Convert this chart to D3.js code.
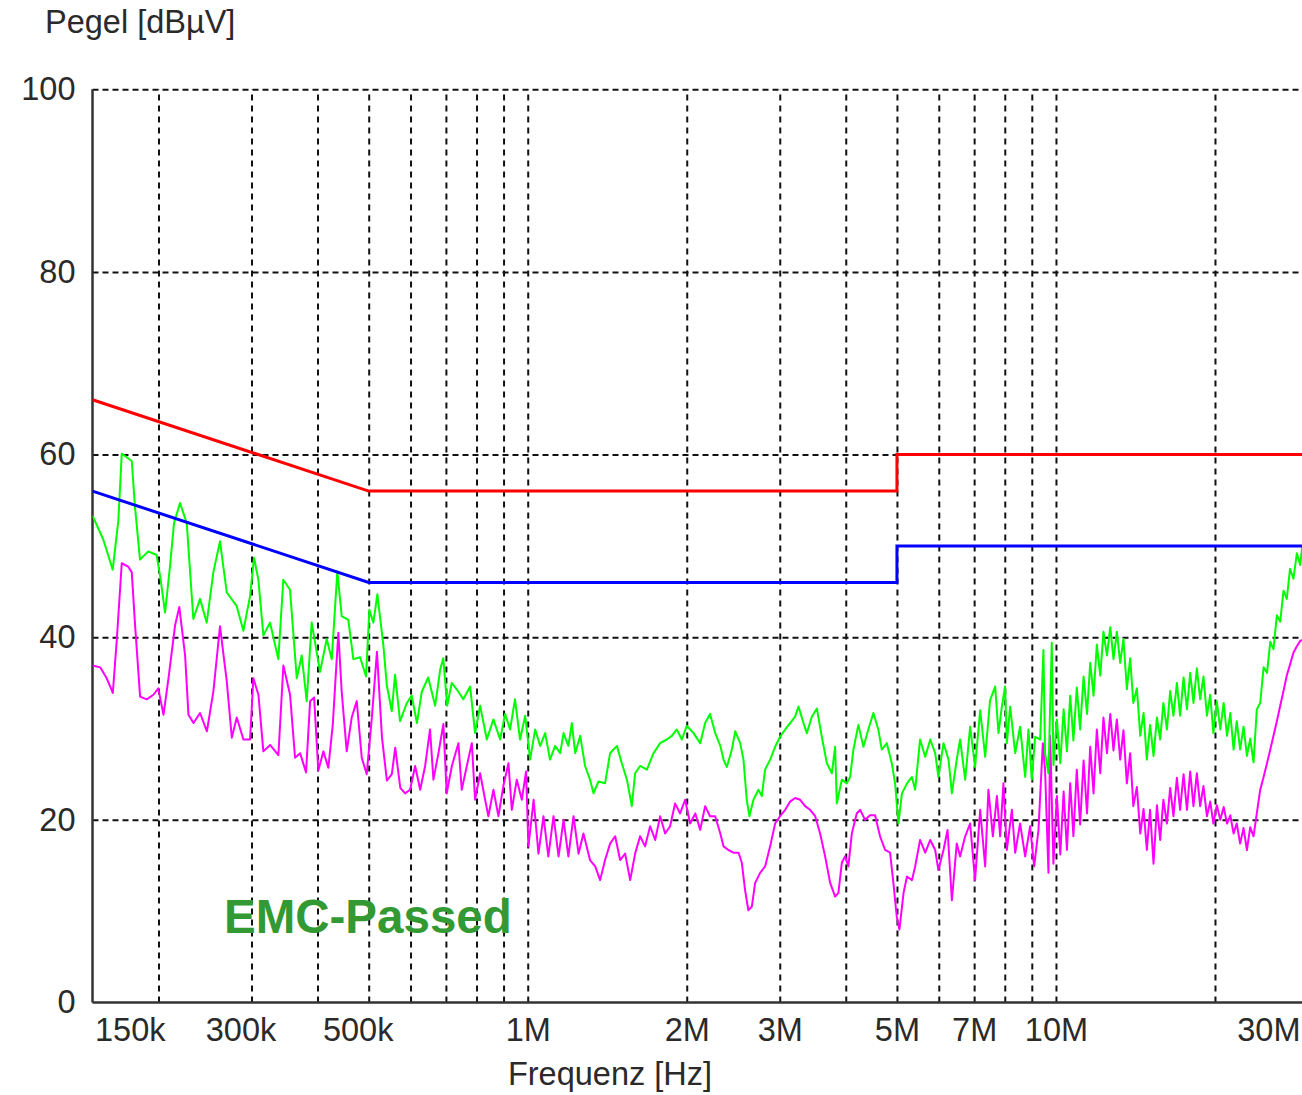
<!DOCTYPE html>
<html>
<head>
<meta charset="utf-8">
<script src="https://cdn.jsdelivr.net/npm/d3@7"></script>
<style>
  html, body { margin: 0; padding: 0; background: #fff; }
  svg { display: block; }
  text { font-family: "Liberation Sans", Arial, sans-serif; }
</style>
</head>
<body>
<script>
// Conducted emission scan 150 kHz - 30 MHz, frequencies in MHz, levels in dBµV

// Quasi-peak limit (red) and average limit (blue)
const qpLimitFreq  = [0.15, 0.5, 5, 5, 30];
const qpLimitLevel = [66, 56, 56, 60, 60];
const avLimitFreq  = [0.15, 0.5, 5, 5, 30];
const avLimitLevel = [56, 46, 46, 50, 50];

// Peak detector trace (green)
const peakFreq = [
  0.150, 0.1572, 0.1638, 0.1679, 0.1704, 0.1741, 0.1780, 0.1805, 0.1845, 0.1913,
  0.1984, 0.2019, 0.2058, 0.2103, 0.2140, 0.2197, 0.2262, 0.2328, 0.2397, 0.2468,
  0.2540, 0.2615, 0.2693, 0.2813, 0.2895, 0.2981, 0.3033, 0.3091, 0.3159, 0.3252,
  0.3372, 0.3446, 0.3548, 0.3654, 0.3734, 0.3816, 0.3900, 0.4044, 0.4164, 0.4256,
  0.4361, 0.4445, 0.4575, 0.4676, 0.4815, 0.4942, 0.5014, 0.5102, 0.5192, 0.5330,
  0.5409, 0.5529, 0.5609, 0.5732, 0.5905, 0.603, 0.617, 0.630, 0.648, 0.668,
  0.683, 0.692, 0.704, 0.718, 0.734, 0.755, 0.778, 0.795, 0.8126, 0.8367,
  0.861, 0.8866, 0.906, 0.926, 0.946, 0.967, 0.989, 1.0105, 1.033, 1.056,
  1.079, 1.102, 1.127, 1.152, 1.169, 1.194, 1.212, 1.230, 1.257, 1.284,
  1.312, 1.332, 1.361, 1.401, 1.432, 1.475, 1.507, 1.541, 1.574, 1.597,
  1.632, 1.681, 1.730, 1.781, 1.834, 1.874, 1.915, 1.958, 2.000, 2.060,
  2.121, 2.167, 2.214, 2.264, 2.315, 2.348, 2.382, 2.435, 2.471, 2.525,
  2.561, 2.598, 2.628, 2.675, 2.734, 2.774, 2.814, 2.877, 2.940, 3.004,
  3.072, 3.139, 3.207, 3.255, 3.327, 3.376, 3.450, 3.527, 3.603, 3.684,
  3.765, 3.819, 3.847, 3.932, 4.018, 4.077, 4.136, 4.226, 4.320, 4.414,
  4.512, 4.610, 4.680, 4.784, 4.889, 4.960, 5.032, 5.110, 5.224, 5.338,
  5.413, 5.530, 5.656, 5.781, 5.907, 5.990, 6.125, 6.261, 6.353, 6.489,
  6.585, 6.732, 6.879, 7.028, 7.187, 7.345, 7.503, 7.672, 7.784, 7.899,
  8.011, 8.072, 8.191, 8.371, 8.553, 8.744, 8.870, 9.000, 9.133, 9.335,
  9.468, 9.536, 9.678, 9.82, 9.89, 10.04, 10.19, 10.34, 10.49, 10.64,
  10.79, 10.95, 11.11, 11.28, 11.45, 11.61, 11.78, 11.95, 12.13, 12.30,
  12.49, 12.67, 12.85, 13.04, 13.23, 13.42, 13.62, 13.82, 14.01, 14.23,
  14.44, 14.65, 14.86, 15.07, 15.30, 15.53, 15.75, 15.97, 16.22, 16.45,
  16.69, 16.94, 17.18, 17.44, 17.70, 17.95, 18.21, 18.48, 18.75, 19.02,
  19.31, 19.59, 19.86, 20.16, 20.47, 20.77, 21.08, 21.38, 21.69, 21.99,
  22.32, 22.65, 22.99, 23.32, 23.66, 24.00, 24.36, 24.72, 25.09, 25.45,
  25.81, 26.19, 26.58, 26.96, 27.35, 27.74, 28.15, 28.58, 29.00, 29.25,
  30.0
];
const peakLevel = [
  53.3, 50.7, 47.4, 52.8, 60.1, 59.7, 59.3, 54.3, 48.5, 49.4,
  49.0, 46.3, 42.7, 47.8, 52.5, 54.7, 52.5, 42.0, 44.2, 41.6,
  47.1, 50.5, 44.9, 43.4, 40.7, 44.5, 48.7, 46.3, 40.2, 41.6,
  37.6, 46.3, 45.2, 35.5, 38.0, 33.0, 41.6, 36.2, 39.8, 37.6,
  47.2, 42.3, 41.9, 37.6, 37.8, 35.7, 43.0, 41.6, 44.7, 39.1,
  34.8, 31.9, 35.9, 30.8, 32.8, 33.6, 30.6, 34.0, 35.6, 32.5,
  36.5, 37.7, 32.5, 35.0, 34.3, 33.2, 34.6, 29.5, 32.5, 28.8,
  31.0, 28.8, 31.6, 29.9, 33.2, 28.8, 31.4, 26.6, 29.9, 28.1,
  29.5, 26.6, 28.1, 27.3, 29.5, 28.1, 30.6, 27.3, 29.2, 25.9,
  24.4, 22.9, 24.2, 24.0, 27.3, 28.1, 26.2, 24.4, 21.5, 25.1,
  25.9, 25.5, 27.3, 28.4, 28.8, 29.2, 29.9, 28.8, 30.3, 29.5,
  28.4, 30.6, 31.6, 29.5, 28.1, 26.6, 25.8, 27.7, 29.7, 28.4,
  26.6, 22.2, 20.4, 22.2, 23.3, 22.6, 25.5, 26.6, 28.0, 29.1,
  29.9, 30.6, 31.3, 32.4, 30.6, 29.5, 31.3, 32.2, 29.1, 26.2,
  25.1, 28.0, 21.8, 24.4, 24.0, 24.7, 27.7, 30.4, 28.0, 29.9,
  31.7, 29.9, 27.7, 28.4, 26.2, 24.0, 19.6, 22.9, 24.0, 24.7,
  23.3, 28.8, 26.9, 28.8, 27.3, 24.7, 28.4, 26.6, 22.9, 26.6,
  28.8, 24.4, 30.2, 25.8, 32.0, 26.9, 33.1, 34.6, 29.5, 32.4,
  34.6, 28.4, 32.4, 27.3, 30.2, 24.7, 29.9, 24.4, 29.1, 28.8,
  38.6, 27.3, 25.1, 39.4, 26.0, 31.0, 26.2, 32.1, 27.5, 33.6,
  28.7, 34.5, 29.9, 35.7, 31.6, 37.2, 33.6, 39.2, 35.8, 40.6,
  38.0, 41.1, 37.6, 40.6, 37.2, 39.8, 34.3, 37.7, 32.8, 34.4,
  29.2, 31.7, 26.6, 30.4, 27.0, 31.2, 28.8, 32.8, 29.9, 34.1,
  31.4, 35.0, 31.4, 35.6, 32.1, 36.1, 32.8, 36.6, 33.2, 35.7,
  31.4, 33.7, 29.5, 33.0, 29.9, 32.8, 29.2, 31.7, 27.7, 30.8,
  27.7, 30.2, 27.0, 28.9, 26.3, 32.1, 32.8, 36.7, 36.1, 39.5,
  38.7, 42.4, 41.7, 45.1, 44.2, 47.5, 46.4, 49.2, 47.9, 49.9,
  50.0
];

// Average detector trace (magenta)
const avgFreq = [
  0.150, 0.1551, 0.1596, 0.1639, 0.1668, 0.1704, 0.1755, 0.1780, 0.1806, 0.1846,
  0.1900, 0.1956, 0.1998, 0.2044, 0.2089, 0.2150, 0.2190, 0.2246, 0.2279, 0.2330,
  0.2397, 0.2470, 0.2541, 0.2615, 0.2694, 0.2753, 0.2813, 0.2896, 0.2981, 0.3024,
  0.3092, 0.3159, 0.3253, 0.3373, 0.3447, 0.3549, 0.3627, 0.3708, 0.3805, 0.3873,
  0.3941, 0.4014, 0.4104, 0.4193, 0.4275, 0.4380, 0.4445, 0.4543, 0.4643, 0.4746,
  0.4851, 0.4957, 0.5069, 0.5183, 0.5298, 0.5413, 0.553, 0.5613, 0.5738, 0.586,
  0.5988, 0.6122, 0.6258, 0.6394, 0.6532, 0.663, 0.6776, 0.6924, 0.7025, 0.7184,
  0.7392, 0.750, 0.7669, 0.7838, 0.7949, 0.8126, 0.8306, 0.8424, 0.8611, 0.8802,
  0.8992, 0.9194, 0.9331, 0.9534, 0.9746, 0.9928, 1.003, 1.026, 1.048, 1.071,
  1.094, 1.119, 1.144, 1.169, 1.194, 1.221, 1.248, 1.275, 1.312, 1.342,
  1.371, 1.401, 1.432, 1.464, 1.496, 1.529, 1.563, 1.597, 1.632, 1.668,
  1.705, 1.743, 1.781, 1.820, 1.860, 1.901, 1.943, 1.986, 2.030, 2.076,
  2.121, 2.167, 2.214, 2.264, 2.315, 2.348, 2.398, 2.452, 2.507, 2.543,
  2.579, 2.616, 2.656, 2.695, 2.754, 2.814, 2.877, 2.940, 3.004, 3.072,
  3.139, 3.207, 3.279, 3.351, 3.424, 3.501, 3.577, 3.656, 3.737, 3.819,
  3.874, 3.932, 3.988, 4.046, 4.107, 4.196, 4.258, 4.351, 4.447, 4.545,
  4.645, 4.749, 4.853, 4.923, 4.996, 5.055, 5.146, 5.224, 5.338, 5.413,
  5.530, 5.656, 5.781, 5.907, 5.990, 6.125, 6.234, 6.353, 6.489, 6.585,
  6.732, 6.879, 7.028, 7.187, 7.345, 7.449, 7.595, 7.730, 7.841, 7.953,
  8.072, 8.252, 8.371, 8.553, 8.744, 8.935, 9.093, 9.266, 9.444, 9.536,
  9.678, 9.75, 9.89, 10.04, 10.19, 10.34, 10.49, 10.64, 10.79, 10.95,
  11.11, 11.28, 11.45, 11.61, 11.78, 11.95, 12.13, 12.30, 12.49, 12.67,
  12.85, 13.04, 13.23, 13.42, 13.62, 13.82, 14.01, 14.23, 14.44, 14.65,
  14.86, 15.07, 15.30, 15.53, 15.75, 15.97, 16.22, 16.45, 16.69, 16.94,
  17.18, 17.44, 17.70, 17.95, 18.21, 18.48, 18.75, 19.02, 19.31, 19.59,
  19.86, 20.16, 20.47, 20.77, 21.08, 21.38, 21.69, 21.99, 22.32, 22.65,
  22.99, 23.32, 23.66, 24.00, 24.36, 24.72, 25.09, 25.45, 25.81, 26.19,
  26.58, 26.96, 27.35, 27.74, 28.15, 28.58, 29.00, 30.0
];
const avgLevel = [
  36.9, 36.7, 35.5, 33.9, 39.8, 48.1, 47.7, 47.1, 41.3, 33.5,
  33.2, 33.7, 34.4, 31.5, 35.5, 41.3, 43.3, 38.0, 31.5, 30.6,
  31.7, 29.7, 34.1, 41.2, 35.1, 29.0, 31.2, 28.8, 28.8, 35.5,
  33.7, 27.5, 28.2, 27.1, 36.9, 33.7, 26.8, 27.3, 25.2, 33.0,
  33.4, 25.4, 27.5, 25.7, 30.4, 40.5, 34.0, 27.5, 31.2, 33.0,
  26.8, 25.0, 31.2, 38.4, 29.0, 24.3, 25.0, 27.9, 23.5, 22.9,
  23.3, 25.9, 23.3, 25.9, 29.9, 24.4, 27.3, 30.5, 22.9, 25.9,
  28.4, 23.3, 25.9, 28.4, 22.2, 25.1, 22.2, 20.4, 23.3, 20.4,
  23.7, 26.2, 21.1, 24.4, 22.2, 25.3, 17.1, 22.2, 16.3, 20.4,
  16.0, 20.4, 16.0, 20.0, 16.0, 20.4, 16.3, 18.5, 15.6, 14.9,
  13.4, 15.6, 17.4, 18.2, 15.6, 16.3, 13.4, 16.3, 18.2, 17.1,
  19.3, 17.8, 20.4, 18.5, 19.3, 21.8, 20.7, 22.2, 19.6, 20.7,
  18.9, 21.5, 20.4, 20.4, 18.5, 17.1, 16.7, 16.4, 16.4, 15.3,
  12.3, 10.1, 10.5, 13.1, 14.2, 14.9, 17.1, 19.6, 20.4, 21.1,
  22.0, 22.4, 22.2, 21.5, 21.1, 20.4, 18.5, 16.0, 13.1, 11.6,
  12.0, 15.3, 16.0, 14.9, 18.5, 20.7, 21.1, 20.0, 20.5, 20.5,
  18.2, 16.7, 16.4, 13.1, 9.4, 8.0, 12.0, 13.8, 13.4, 14.9,
  17.8, 16.4, 17.8, 16.7, 14.5, 16.7, 18.9, 11.2, 17.4, 16.0,
  18.2, 19.6, 13.4, 21.1, 14.9, 23.3, 18.2, 22.6, 18.2, 24.0,
  16.7, 21.1, 16.4, 19.6, 16.0, 19.3, 14.9, 18.9, 28.4, 25.5,
  14.2, 29.2, 15.2, 22.6, 16.2, 23.1, 16.7, 24.0, 18.2, 25.5,
  19.5, 26.5, 20.7, 28.0, 22.9, 29.9, 25.1, 31.2, 27.3, 31.6,
  27.6, 31.0, 26.6, 29.8, 24.0, 27.3, 21.5, 23.6, 18.5, 21.2,
  16.7, 21.1, 15.2, 21.6, 17.8, 22.2, 19.6, 23.5, 20.4, 24.6,
  21.1, 25.0, 21.1, 25.3, 21.5, 25.1, 21.5, 23.7, 20.4, 22.0,
  19.6, 21.6, 20.0, 21.4, 19.6, 20.5, 18.5, 19.6, 17.4, 19.1,
  16.7, 19.2, 18.2, 20.7, 23.3, 24.7, 26.2, 27.7, 29.2, 30.8,
  32.5, 34.1, 35.8, 37.0, 38.3, 39.0, 39.6, 40.0
];

// Axis ticks and labels
const yTicks = [0, 20, 40, 60, 80, 100];
const xLabelFreq = [0.15, 0.3, 0.5, 1, 2, 3, 5, 7, 10, 30];
const xLabelText = ["150k", "300k", "500k", "1M", "2M", "3M", "5M", "7M", "10M", "30M"];
const xGridFreq = [0.2, 0.3, 0.4, 0.5, 0.6, 0.7, 0.8, 0.9, 1, 2, 3, 4, 5, 6, 7, 8, 9, 10, 20];

const W = 1302, H = 1095;
const plot = { left: 92.5, right: 1308, top: 89.3, bottom: 1002.5 };

const x = d3.scaleLog().domain([0.15, 30]).range([plot.left, plot.right]);
const y = d3.scaleLinear().domain([0, 100]).range([plot.bottom, plot.top]);

const svg = d3.select("body").append("svg")
  .attr("width", W).attr("height", H)
  .attr("viewBox", `0 0 ${W} ${H}`);

svg.append("rect").attr("width", W).attr("height", H).attr("fill", "#fff");

const textColor = "#2a2a2a";
const fontSize = 32.5;

// Horizontal dashed grid
const yGrid = svg.append("g")
  .attr("transform", `translate(${plot.left},0)`)
  .call(d3.axisLeft(y).tickValues(yTicks.filter(d => d > 0))
    .tickSize(-(plot.right - plot.left)).tickFormat(""));
yGrid.select(".domain").remove();
yGrid.selectAll(".tick line")
  .attr("stroke", "#111").attr("stroke-width", 2).attr("stroke-dasharray", "6,4");

// Vertical dashed grid
const xGrid = svg.append("g")
  .attr("transform", `translate(0,${plot.bottom})`)
  .call(d3.axisBottom(x).tickValues(xGridFreq)
    .tickSize(-(plot.bottom - plot.top)).tickFormat(""));
xGrid.select(".domain").remove();
xGrid.selectAll(".tick line")
  .attr("stroke", "#111").attr("stroke-width", 2).attr("stroke-dasharray", "6,5");

// Solid left and bottom axis lines
svg.append("line")
  .attr("x1", plot.left).attr("x2", plot.left)
  .attr("y1", plot.top).attr("y2", plot.bottom)
  .attr("stroke", "#333").attr("stroke-width", 2.5);
svg.append("line")
  .attr("x1", plot.left).attr("x2", plot.right)
  .attr("y1", plot.bottom).attr("y2", plot.bottom)
  .attr("stroke", "#333").attr("stroke-width", 2.5);

// Y tick labels
const yAxis = svg.append("g")
  .attr("transform", `translate(${plot.left},0)`)
  .call(d3.axisLeft(y).tickValues(yTicks).tickSize(0).tickPadding(17).tickFormat(d3.format("d")));
yAxis.select(".domain").remove();
yAxis.selectAll("text")
  .attr("font-size", fontSize).attr("fill", textColor)
  .attr("font-family", "'Liberation Sans', Arial, sans-serif");

// X tick labels
const xAxis = svg.append("g")
  .attr("transform", `translate(0,${plot.bottom})`)
  .call(d3.axisBottom(x).tickValues(xLabelFreq).tickSize(0).tickPadding(15)
    .tickFormat((d, i) => xLabelText[i]));
xAxis.select(".domain").remove();
xAxis.selectAll("text")
  .attr("font-size", fontSize).attr("fill", textColor)
  .attr("font-family", "'Liberation Sans', Arial, sans-serif")
  .each(function(d, i) {
    const t = d3.select(this);
    if (i === 0) {
      t.attr("text-anchor", "start").attr("dx", 2);
    } else if (i === xLabelFreq.length - 1) {
      t.attr("text-anchor", "end").attr("dx", (W - 2) - x(d));
    } else if (d < 1) {
      t.attr("dx", -11);
    }
  });

// Axis titles
svg.append("text")
  .attr("x", 45).attr("y", 33)
  .attr("font-size", fontSize).attr("fill", textColor)
  .text("Pegel [dBµV]");
svg.append("text")
  .attr("x", 610).attr("y", 1085)
  .attr("text-anchor", "middle")
  .attr("font-size", fontSize).attr("fill", textColor)
  .text("Frequenz [Hz]");

svg.append("defs").append("clipPath").attr("id", "plot-clip")
  .append("rect")
  .attr("x", plot.left).attr("y", plot.top - 5)
  .attr("width", W - plot.left).attr("height", plot.bottom - plot.top + 5);

const line = d3.line().x(d => x(d[0])).y(d => y(d[1]));
const traces = svg.append("g").attr("clip-path", "url(#plot-clip)");

function series(freq, level) { return freq.map((f, i) => [f, level[i]]); }

traces.append("path")
  .datum(series(avgFreq, avgLevel))
  .attr("fill", "none").attr("stroke", "#ff00ff")
  .attr("stroke-width", 2).attr("stroke-linejoin", "round")
  .attr("d", line);

traces.append("path")
  .datum(series(peakFreq, peakLevel))
  .attr("fill", "none").attr("stroke", "#00ff00")
  .attr("stroke-width", 2).attr("stroke-linejoin", "round")
  .attr("d", line);

traces.append("path")
  .datum(series(avLimitFreq, avLimitLevel))
  .attr("fill", "none").attr("stroke", "#0000ff")
  .attr("stroke-width", 3).attr("d", line);

traces.append("path")
  .datum(series(qpLimitFreq, qpLimitLevel))
  .attr("fill", "none").attr("stroke", "#ff0000")
  .attr("stroke-width", 3).attr("d", line);

// Verdict stamp
svg.append("text")
  .attr("x", 224).attr("y", 933)
  .attr("font-size", 47.5).attr("font-weight", "bold")
  .attr("fill", "#339933")
  .text("EMC-Passed");
</script>
</body>
</html>
